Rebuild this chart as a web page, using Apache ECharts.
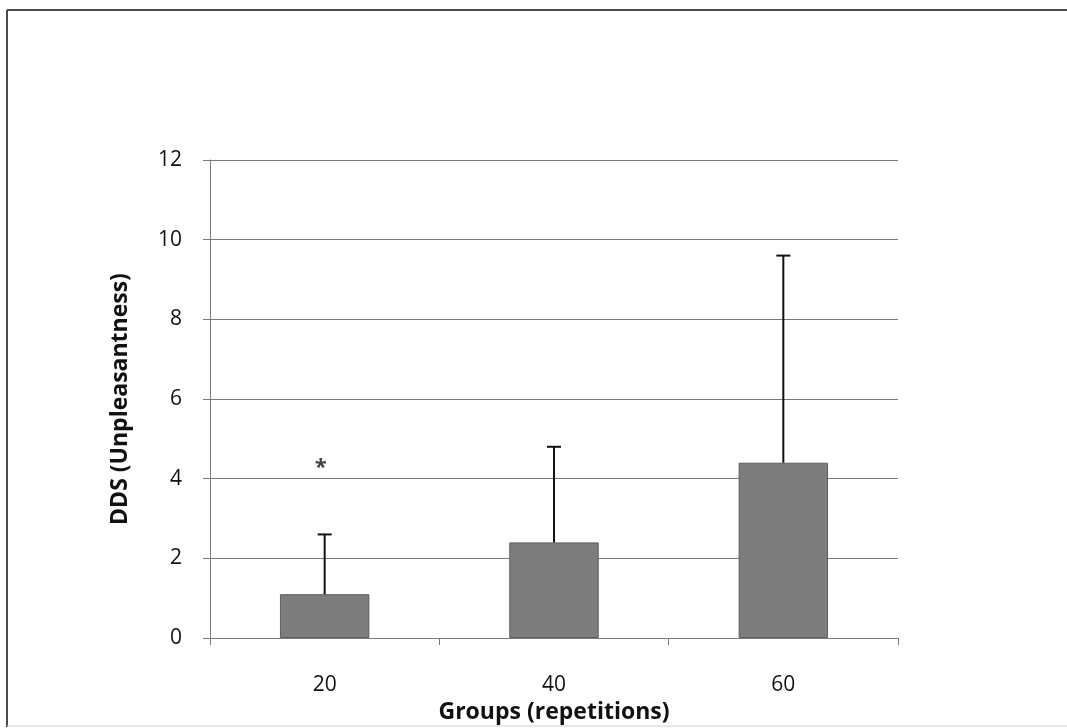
<!DOCTYPE html>
<html>
<head>
<meta charset="utf-8">
<style>
  html, body { margin: 0; padding: 0; background: #ffffff; }
  #chart { width: 1067px; height: 728px; }
</style>
<script src="https://cdn.jsdelivr.net/npm/echarts@6/dist/echarts.min.js"></script>
</head>
<body>
<div id="chart"></div>
<script>
// Groups by number of repetitions
const categories = ['20', '40', '60'];
// Mean DDS unpleasantness per group
const meanValues = [1.1, 2.4, 4.4];
// Upper end of the error bar per group
const errorTops = [2.6, 4.8, 9.6];
// Significance marker: group index and height
const starMarks = [[0, 4.4]];
const yTicks = { min: 0, max: 12, interval: 2 };

const chart = echarts.init(document.getElementById('chart'));

const font = '"Open Sans", Lato, "DejaVu Sans", sans-serif';

chart.setOption({
  backgroundColor: '#ffffff',
  animation: false,
  grid: { left: 210, right: 169, top: 160, bottom: 90, outerBoundsMode: 'none', containLabel: false },
  graphic: [
    { type: 'line', shape: { x1: 7, y1: 10, x2: 1067, y2: 10 }, style: { stroke: '#4a4a4a', lineWidth: 2 } },
    { type: 'line', shape: { x1: 7, y1: 10, x2: 7, y2: 727 }, style: { stroke: '#4a4a4a', lineWidth: 2 } },
    { type: 'line', shape: { x1: 7, y1: 726, x2: 1067, y2: 726 }, style: { stroke: '#d0d0d0', lineWidth: 1 } }
  ],
  xAxis: {
    type: 'category',
    data: categories,
    name: 'Groups (repetitions)',
    nameLocation: 'middle',
    nameGap: 63,
    nameTextStyle: { fontFamily: font, fontSize: 23, fontWeight: 'bold', color: '#111' },
    axisLine: { show: true, lineStyle: { color: '#7a7a7a', width: 1 } },
    axisTick: { show: true, length: 7, lineStyle: { color: '#7a7a7a' } },
    axisLabel: { fontFamily: font, fontSize: 21, color: '#111', margin: 37 },
    splitLine: { show: false }
  },
  yAxis: {
    type: 'value',
    min: yTicks.min,
    max: yTicks.max,
    interval: yTicks.interval,
    name: 'DDS (Unpleasantness)',
    nameLocation: 'middle',
    nameGap: 78,
    nameTextStyle: { fontFamily: font, fontSize: 23, fontWeight: 'bold', color: '#111' },
    axisLine: { show: true, lineStyle: { color: '#7a7a7a', width: 1 } },
    axisTick: { show: true, length: 7, lineStyle: { color: '#7a7a7a' } },
    axisLabel: { fontFamily: font, fontSize: 21, color: '#111', margin: 28 },
    splitLine: { show: true, lineStyle: { color: '#7a7a7a', width: 1 } }
  },
  series: [
    {
      type: 'bar',
      data: meanValues,
      barWidth: '39%',
      itemStyle: { color: '#7d7d7d', borderColor: '#5e5e5e', borderWidth: 1 },
      z: 2
    },
    {
      type: 'custom',
      data: categories.map((c, i) => [i, meanValues[i], errorTops[i]]),
      z: 3,
      renderItem: function (params, api) {
        const base = api.coord([api.value(0), api.value(1)]);
        const top = api.coord([api.value(0), api.value(2)]);
        const half = 7;
        return {
          type: 'group',
          children: [
            { type: 'line', shape: { x1: base[0], y1: base[1], x2: top[0], y2: top[1] }, style: { stroke: '#111', lineWidth: 2 } },
            { type: 'line', shape: { x1: top[0] - half, y1: top[1], x2: top[0] + half, y2: top[1] }, style: { stroke: '#111', lineWidth: 2 } }
          ]
        };
      }
    },
    {
      type: 'scatter',
      data: starMarks,
      symbolSize: 0,
      z: 4,
      label: {
        show: true,
        formatter: '*',
        position: 'inside',
        offset: [-4, 5],
        fontFamily: font,
        fontSize: 22,
        fontWeight: 'bold',
        color: '#111'
      }
    }
  ]
});
</script>
</body>
</html>
